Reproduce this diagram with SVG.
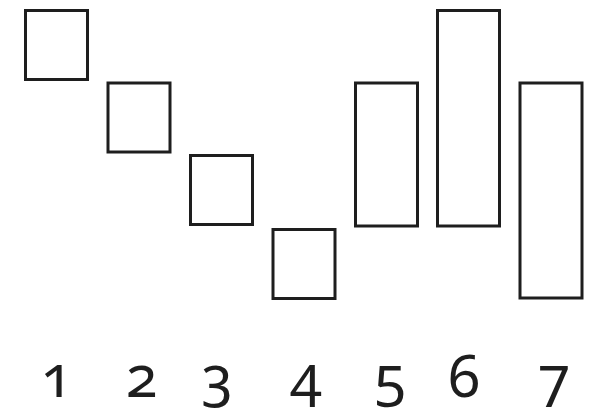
<svg xmlns="http://www.w3.org/2000/svg" width="602" height="418" viewBox="0 0 602 418">
<style>
.box{fill:none;stroke:#1e1e1e;stroke-width:3}
.lbl{font-family:"Noto Sans","DejaVu Sans",sans-serif;font-size:58px;fill:#1e1e1e;text-anchor:middle;font-variant-numeric:oldstyle-nums;font-feature-settings:"onum" 1}
</style>
<rect width="602" height="418" fill="#ffffff"/>
<g id="node1"><rect class="box" x="25.5" y="10.5" width="62" height="69"/><text class="lbl" x="56.5" y="397">1</text></g>
<g id="node2"><rect class="box" x="108" y="83" width="62" height="69"/><text class="lbl" x="141.5" y="397">2</text></g>
<g id="node3"><rect class="box" x="190.5" y="155.5" width="62" height="69"/><text class="lbl" x="217" y="397">3</text></g>
<g id="node4"><rect class="box" x="273" y="229.5" width="62" height="69"/><text class="lbl" x="306" y="397">4</text></g>
<g id="node5"><rect class="box" x="355.5" y="83" width="62" height="143"/><text class="lbl" x="390" y="397">5</text></g>
<g id="node6"><rect class="box" x="437.5" y="10.5" width="62" height="215.5"/><text class="lbl" x="464" y="397">6</text></g>
<g id="node7"><rect class="box" x="520" y="83" width="62" height="215"/><text class="lbl" x="554" y="397">7</text></g>
<g id="connectors"></g>
</svg>
